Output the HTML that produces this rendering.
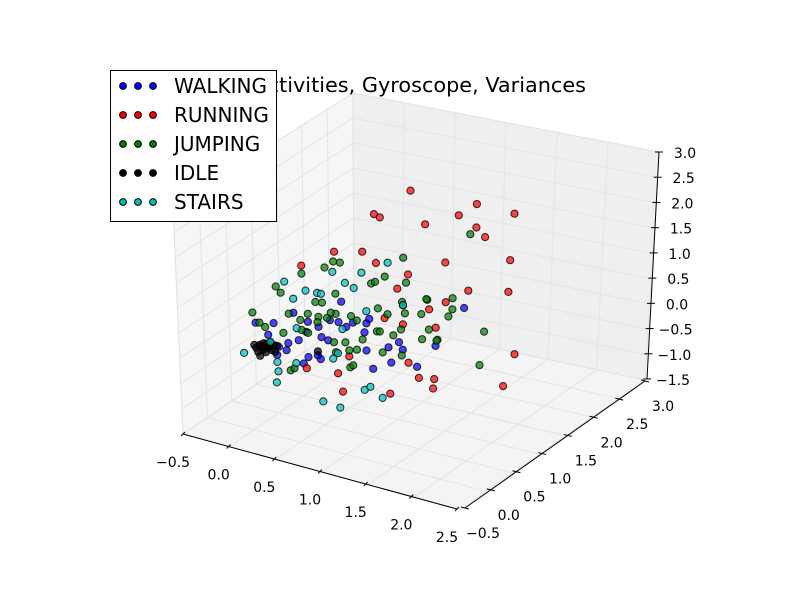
<!DOCTYPE html>
<html><head><meta charset="utf-8"><style>
html,body{margin:0;padding:0;background:#fff;}
svg{display:block;font-family:"DejaVu Sans","Liberation Sans",sans-serif;}
</style></head><body>
<svg id="chart" width="800" height="600" viewBox="0 0 800 600">
<rect x="0" y="0" width="800" height="600" fill="#ffffff"/>
<g id="panes"></g>
<g id="axes"></g>
<g id="points"></g>
<text x="586" y="92" text-anchor="end" font-size="20.8" fill="#000">Activities, Gyroscope, Variances</text>
<g id="legend"></g>
</svg>
<script>
const xTicks=[-0.5,0.0,0.5,1.0,1.5,2.0,2.5];
const yTicks=[-0.5,0.0,0.5,1.0,1.5,2.0,2.5,3.0];
const zTicks=[-1.5,-1.0,-0.5,0.0,0.5,1.0,1.5,2.0,2.5,3.0];
const seriesNames=["WALKING","RUNNING","JUMPING","IDLE","STAIRS"];
const walkX=[0.41,0.29,0.06,-0.09,0.17,0.20,-0.04,-0.15,-0.25,-0.27,-0.36,-0.49,-0.30,0.04,0.06,0.01,0.16,0.19,0.38,0.53,0.67,0.70,0.65,0.74,0.67,0.90,0.93,1.01,1.05,1.20,1.39,1.68,0.46,0.27,-0.17];
const walkY=[1,1,1,1,1,1,1,1,1,1,1,1,1,1,1,1,1,1,1,1,1,1,1,1,1,1,1,1,1,1,1,1,1,1,1];
const walkZ=[0.56,0.14,0,0.11,-0.05,-0.24,-0.41,-0.52,-0.64,-0.81,-0.45,-0.27,-0.19,-0.21,-0.70,-0.85,-0.62,-0.68,0.14,0.20,0.25,0.35,0.06,-0.62,-0.29,-0.12,-0.41,0.03,-0.10,-0.37,0.13,1.01,0.08,-0.27,-0.67];
const runX=[1.12,1.79,0.75,0.81,1.61,2.17,1.27,1.79,1.88,2.14,1.48,0.34,0.63,0.77,0,1.10,0.99,2.13,1.72,1.49,1.32,1.39,0.86,1.05,2.21,0.49,1.11,0.04,0.37,1.22,1.38,1.37,2.10,0.42,0.92];
const runY=[1,1,1,1,1,1,1,1,1,1,1,1,1,1,1,1,1,1,1,1,1,1,1,1,1,1,1,1,1,1,1,1,1,1,1];
const runZ=[3.08,3.11,2.45,2.41,2.81,3.09,2.48,2.65,2.50,2.16,1.82,1.52,1.65,1.49,1.09,1.41,1.08,1.53,1.37,1.04,0.82,0.49,0.44,0.40,0.34,-0.49,-0.33,-0.93,-0.88,-0.58,-0.53,-0.72,-0.34,-1.22,-1.03];
const jumpX=[0,-0.27,-0.22,-0.52,-0.45,-0.39,-0.14,-0.02,0.06,0.14,0.21,0.35,0.51,0.57,0.26,0.17,0.35,0.72,0.76,0.86,1.08,1.05,0.79,0.89,1.04,1.07,1.25,1.24,1.32,1.41,1.56,1.56,1.89,1.85,1.52,0.78,0.81,0.84,0.95,1.03,1.04,0.63,0.57,0.49,0.45,0.33,0.35,0.06,-0.20,-0.13,-0.09,0.50,0.53,0.24,0.33,0.40,1.05,1.30,0.30,-0.01,0.16,1.73,1.29,1.40];
const jumpY=[1,1,1,1,1,1,1,1,1,1,1,1,1,1,1,1,1,1,1,1,1,1,1,1,1,1,1,1,1,1,1,1,1,1,1,1,1,1,1,1,1,1,1,1,1,1,1,1,1,1,1,1,1,1,1,1,1,1,1,1,1,1,1,1];
const jumpZ=[0.93,0.55,0.45,-0.08,-0.25,-0.31,0.07,0,0.16,0.43,0.45,0.29,0.32,0.26,0.17,0.15,0.69,1.06,1.11,1.26,1.24,1.72,0.60,0.53,0.84,0.63,0.20,0.69,0.42,0.26,1.15,0.93,0.64,-0.04,0.77,0.14,0.15,-0.25,0.14,0.29,-0.22,-0.09,-0.32,-0.37,-0.23,-0.28,-0.47,-0.22,-0.34,-1.05,-0.99,-0.70,-0.65,1.16,1.32,1.33,0.78,1.0,0.29,-0.19,0.04,2.49,1.01,0.24];
const idleX=[-0.49,-0.45,-0.41,-0.38,-0.34,-0.30,-0.36,-0.42,-0.47,-0.39,-0.33,-0.27,-0.45,0.16,-0.44,-0.35,-0.51,-0.40,-0.29];
const idleY=[1,1,1,1,1,1,1,1,1,1,1,1,1,1,1,1,1,1,1];
const idleZ=[-0.77,-0.69,-0.64,-0.64,-0.60,-0.63,-0.71,-0.78,-0.84,-0.81,-0.74,-0.63,-0.91,-0.54,-0.71,-0.67,-0.72,-0.72,-0.76];
const stairX=[-0.18,0.04,-0.09,0.16,0.20,0.32,0.62,0.45,0.54,0.89,0.67,1.05,-0.06,0.42,0.37,0.32,-0.07,-0.27,-0.28,-0.26,-0.62,0.21,0.39,0.65,0.71,0.84,-0.34];
const stairY=[1,1,1,1,1,1,1,1,1,1,1,1,1,1,1,1,1,1,1,1,1,1,1,1,1,1,1];
const stairZ=[0.69,0.61,0.39,0.62,0.62,1.11,1.23,0.95,0.89,1.55,0.49,0.78,-0.18,0.02,-0.48,-0.61,-0.88,-0.95,-1.36,-1.13,-0.93,-1.51,-1.55,-1.08,-0.99,-1.15,-0.58];

const NS="http://www.w3.org/2000/svg";
const X0=-0.5,X1=2.5,Y0=-0.5,Y1=3.0,Z0=-1.5,Z1=3.0;
const C={FLb:[183,434],FRb:[460,510],BRb:[645,380],BLb:[354,318],FLt:[173,207],FRt:[463,281],BRt:[659,152],BLt:[353,93]};
function lerp(a,b,t){return [a[0]+(b[0]-a[0])*t,a[1]+(b[1]-a[1])*t];}
function proj(x,y,z){
  const u=(x-X0)/(X1-X0),v=(y-Y0)/(Y1-Y0),t=(z-Z0)/(Z1-Z0);
  const fb=lerp(lerp(C.FLb,C.FRb,u),lerp(C.BLb,C.BRb,u),v);
  const tp=lerp(lerp(C.FLt,C.FRt,u),lerp(C.BLt,C.BRt,u),v);
  return lerp(fb,tp,t);
}
function mk(tag,attrs,parent){const e=document.createElementNS(NS,tag);for(const k in attrs)e.setAttribute(k,attrs[k]);parent.appendChild(e);return e;}
function poly(pts){return pts.map(p=>p[0].toFixed(1)+","+p[1].toFixed(1)).join(" ");}

const panes=document.getElementById("panes");
let pg;
pg=mk("polygon",{points:poly([proj(X0,Y0,Z0),proj(X1,Y0,Z0),proj(X1,Y1,Z0),proj(X0,Y1,Z0)]),fill:"#f4f4f4",stroke:"#e8e8e8"},panes);


pg=mk("polygon",{points:poly([proj(X0,Y1,Z0),proj(X1,Y1,Z0),proj(X1,Y1,Z1),proj(X0,Y1,Z1)]),fill:"#efefef",stroke:"#e8e8e8"},panes);


pg=mk("polygon",{points:poly([proj(X0,Y0,Z0),proj(X0,Y1,Z0),proj(X0,Y1,Z1),proj(X0,Y0,Z1)]),fill:"#f6f6f6",stroke:"#e8e8e8"},panes);


function gl(a,b,name){const l=mk("line",{x1:a[0],y1:a[1],x2:b[0],y2:b[1],stroke:"#e3e3e3","stroke-width":1},panes);

}
xTicks.forEach(x=>{gl(proj(x,Y0,Z0),proj(x,Y1,Z0),'floor-gridline-x');gl(proj(x,Y1,Z0),proj(x,Y1,Z1),'back-gridline-x');});
yTicks.forEach(y=>{gl(proj(X0,y,Z0),proj(X1,y,Z0),'floor-gridline-y');gl(proj(X0,y,Z0),proj(X0,y,Z1),'left-gridline-y');});
zTicks.forEach(z=>{gl(proj(X0,Y1,z),proj(X1,Y1,z),'back-gridline-z');gl(proj(X0,Y0,z),proj(X0,Y1,z),'left-gridline-z');});

const axes=document.getElementById("axes");
const xA=[[183,434],[457,509]],yA=[[465,508],[645,381]],zA=[[647,379],[659,152]];
function axisPt(A,v,v0,v1){return lerp(A[0],A[1],(v-v0)/(v1-v0));}
function fmt(v){return (v<0?"\u2212":"")+Math.abs(v).toFixed(1);}
function drawAxis(A,ticks,v0,v1,tick,off,name){
  const l=mk("line",{x1:A[0][0],y1:A[0][1],x2:A[1][0],y2:A[1][1],stroke:"#000","stroke-width":1},axes);
  
  
  ticks.forEach(v=>{
    const p=axisPt(A,v,v0,v1);
    const t=mk("line",{x1:p[0]-tick[0],y1:p[1]-tick[1],x2:p[0]+tick[0],y2:p[1]+tick[1],stroke:"#000","stroke-width":1},axes);
    
    
    const tx=mk("text",{x:p[0]+off[0],y:p[1]+off[1],"text-anchor":"middle","font-size":14,fill:"#000"},axes);
    tx.textContent=fmt(v);
    
    
  });
}
drawAxis(xA,xTicks,X0,X1,[2,-2],[-10,33],'x-axis');
drawAxis(yA,yTicks,Y0,Y1,[4,1],[18,30],'y-axis');
drawAxis(zA,zTicks,Z0,Z1,[4,0],[26,6],'z-axis');

const colors=["#0000ff","#ff0000","#008000","#000000","#00bfbf"];
const SX=[walkX,runX,jumpX,idleX,stairX],SY=[walkY,runY,jumpY,idleY,stairY],SZ=[walkZ,runZ,jumpZ,idleZ,stairZ];
const pts=document.getElementById("points");
SX.forEach((xs,s)=>{
  const g=mk("g",{},pts);
  
  
  xs.forEach((x,i)=>{
    const p=proj(x,SY[s][i],SZ[s][i]);
    const c=mk("circle",{cx:p[0].toFixed(1),cy:p[1].toFixed(1),r:3.6,fill:colors[s],"fill-opacity":0.72,stroke:"#000","stroke-opacity":0.8,"stroke-width":1},g);
    
    
  });
});

const lg=document.getElementById("legend");
const box=mk("rect",{x:110.5,y:70.5,width:166,height:151,fill:"#fff",stroke:"#000","stroke-width":1},lg);


seriesNames.forEach((n,i)=>{
  const cy=86+i*29;
  const g=mk("g",{},lg);
  
  
  [123,138,153].forEach(cx=>{const c=mk("circle",{cx:cx,cy:cy,r:3.4,fill:colors[i],stroke:"#000","stroke-width":1},g);
    
    });
  const t=mk("text",{x:174,y:cy+7,"font-size":20,fill:"#000"},g);
  t.textContent=n;
  
  
});
</script>
</body></html>
